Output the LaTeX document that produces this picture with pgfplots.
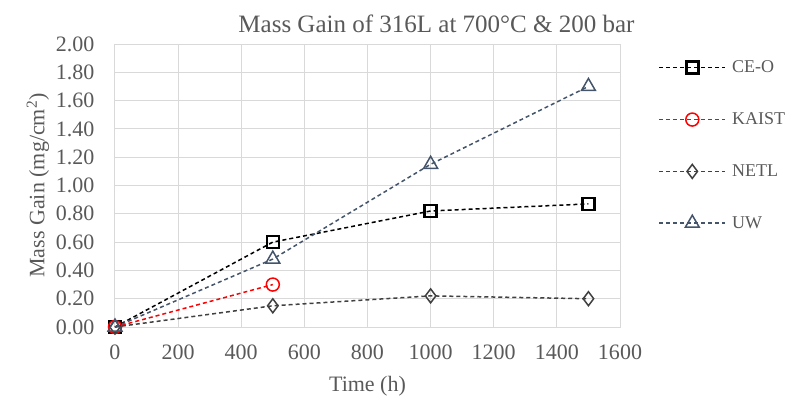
\documentclass[border=0pt]{standalone}
\usepackage{pgfplots}
\pgfplotsset{compat=1.18}
\usepackage{fontspec}
\setmainfont{Liberation Serif}
\definecolor{txt}{HTML}{595959}
\definecolor{grd}{HTML}{D9D9D9}
\definecolor{netl}{HTML}{404040}
\definecolor{uw}{HTML}{44546A}
\begin{document}
\begin{tikzpicture}
\begin{axis}[
  scale only axis,
  width=505pt, height=283pt,
  xmin=0, xmax=1600, ymin=0, ymax=2,
  xtick={0,200,...,1600},
  ytick={0,0.2,...,2.0},
  yticklabel style={xshift=-17pt, /pgf/number format/.cd, fixed, fixed zerofill, precision=2},
  xticklabel style={yshift=-14pt, /pgf/number format/1000 sep={}},
  /pgf/number format/assume math mode=true,
  scaled y ticks=false,
  grid=major,
  major grid style={grd, line width=1pt},
  axis line style={grd, line width=1pt},
  tick style={draw=none},
  tick label style={font=\fontsize{22}{22}\selectfont, text=txt},
  xlabel={Time (h)},
  ylabel={Mass Gain (mg/cm\textsuperscript{2})},
  label style={font=\fontsize{22}{22}\selectfont, text=txt},
  xlabel style={yshift=-10pt},
  title={Mass Gain of 316L at 700°C \& 200 bar},
  title style={font=\fontsize{25}{25}\selectfont, text=txt, yshift=2pt, xshift=69pt},
  clip=false,
  legend style={draw=none, fill=none, at={(rel axis cs:1.07,0.955)}, anchor=north west,
    font=\fontsize{18}{18}\selectfont, text=txt, row sep=34.5pt, column sep=4pt},
  legend cell align=left,
  legend image code/.code={\draw[mark repeat=2,mark phase=2,#1] plot coordinates {(0pt,0pt) (33pt,0pt) (66pt,0pt)};},
  every axis plot/.append style={line width=1.5pt, dash pattern=on 4pt off 3pt},
]
\addplot[black, mark=square, mark size=6pt, mark options={solid, line width=2.5pt}]
  coordinates {(0,0) (500,0.60) (1000,0.82) (1500,0.87)};
\addlegendentry{CE-O}
\addplot[red, mark=o, mark size=6.5pt, mark options={solid, line width=1.5pt}]
  coordinates {(0,0) (500,0.30)};
\addlegendentry{KAIST}
\addplot[netl, mark=diamond, mark size=7pt, mark options={solid, line width=1.5pt}]
  coordinates {(0,0) (500,0.15) (1000,0.22) (1500,0.20)};
\addlegendentry{NETL}
\addplot[uw, mark=triangle, mark size=8pt, mark options={solid, line width=1.5pt}]
  coordinates {(0,0) (500,0.48) (1000,1.15) (1500,1.70)};
\addlegendentry{UW}
\path (rel axis cs:-0.2277,-0.2756) (rel axis cs:1.3604,1.1555);
\end{axis}
\end{tikzpicture}
\end{document}
